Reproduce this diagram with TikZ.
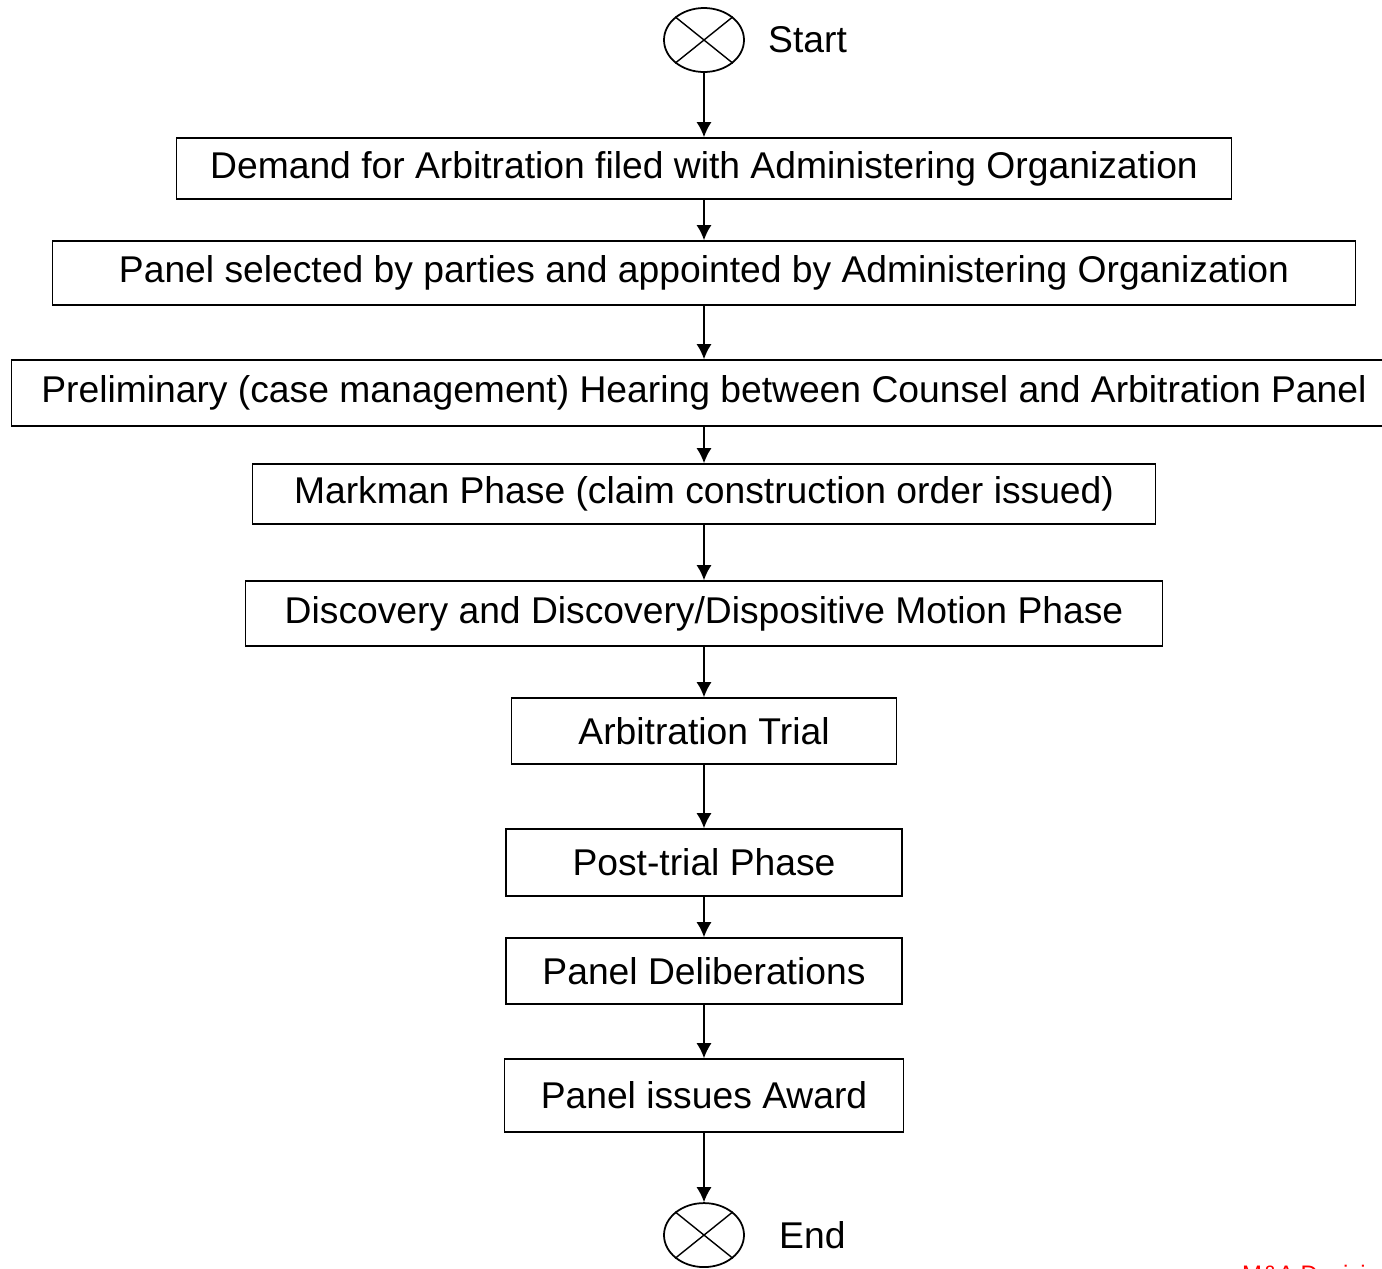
\documentclass[tikz,border=0pt]{standalone}
\usepackage{fontspec}
\setmainfont{Liberation Sans}
\usetikzlibrary{positioning}
\usetikzlibrary{shapes.geometric}
\usetikzlibrary{arrows.meta}

\begin{document}
\begin{tikzpicture}
[
stage/.style={rectangle, draw, line width=1pt, inner sep=0pt, align=center, minimum height=13mm, font=\fontsize{21.2}{25}\selectfont},
term/.style={ellipse, draw, line width=1pt, minimum width=16mm, minimum height=12.8mm, inner sep=0pt},
text-a/.style={inner sep=0pt, font=\fontsize{21.2}{25}\selectfont},
flow/.style={-{Latex[length=3mm,width=3mm]}, line width=0.8pt},
]
\useasboundingbox (0,0) rectangle (27.64,-25.36);
\node (st)   [term] at (14.08,-0.8)                                        {};
\node (stl)  [text-a, right = 4.6mm of st]                                 {Start};
\node (dem)  [stage, minimum width=211mm, minimum height=12.2mm, below = 12.85mm of st]  {Demand for Arbitration filed with Administering Organization};
\node (sel)  [stage, minimum width=260.6mm, minimum height=12.8mm, below = 8.05mm of dem] {Panel selected by parties and appointed by Administering Organization};
\node (pre)  [stage, minimum width=277mm, minimum height=13.2mm, below = 10.65mm of sel]  {Preliminary (case management) Hearing between Counsel and Arbitration Panel};
\node (mkm)  [stage, minimum width=180.6mm, minimum height=12mm, below = 7.25mm of pre]   {Markman Phase (claim construction order issued)};
\node (dis)  [stage, minimum width=183.4mm, below = 11.05mm of mkm]                      {Discovery and Discovery/Dispositive Motion Phase};
\node (tri)  [stage, minimum width=77mm, minimum height=13.2mm, below = 10.05mm of dis]  {Arbitration Trial};
\node (pos)  [stage, minimum width=79.2mm, minimum height=13.4mm, below = 12.65mm of tri] {Post-trial Phase};
\node (del)  [stage, minimum width=79.2mm, minimum height=13.2mm, below = 8.05mm of pos] {Panel Deliberations};
\node (awd)  [stage, minimum width=79.8mm, minimum height=14.6mm, below = 10.65mm of del] {Panel issues Award};
\node (en)   [term, below = 13.85mm of awd]                                {};
\node (enl)  [text-a, right = 6.8mm of en]                                 {End};
\node (mark) [anchor=base west, text=red, font=\fontsize{13.6}{16}\selectfont] at (24.72,-25.65) {M\&A  Decisions};
% crosses in the terminals
\draw [line width=0.8pt] (st.north west) -- (st.south east);
\draw [line width=0.8pt] (st.north east) -- (st.south west);
\draw [line width=0.8pt] (en.north west) -- (en.south east);
\draw [line width=0.8pt] (en.north east) -- (en.south west);
\draw [flow] (st)  -- (dem);
\draw [flow] (dem) -- (sel);
\draw [flow] (sel) -- (pre);
\draw [flow] (pre) -- (mkm);
\draw [flow] (mkm) -- (dis);
\draw [flow] (dis) -- (tri);
\draw [flow] (tri) -- (pos);
\draw [flow] (pos) -- (del);
\draw [flow] (del) -- (awd);
\draw [flow] (awd) -- (en);
\end{tikzpicture}
\end{document}
